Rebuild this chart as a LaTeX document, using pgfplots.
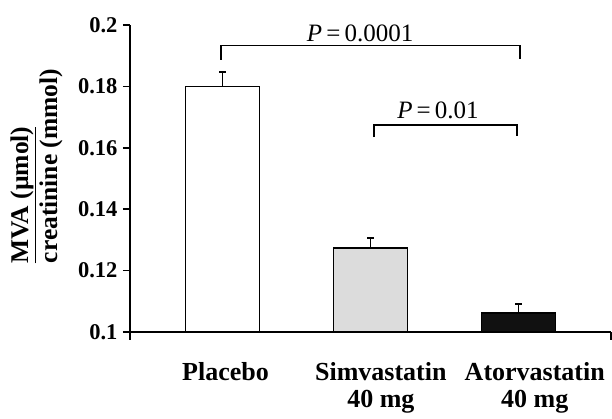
\documentclass[border=0pt]{standalone}
\usepackage{pgfplots}
\pgfplotsset{compat=1.18}
\usepackage{fontspec}
\setmainfont{Liberation Serif}
\definecolor{simgrey}{HTML}{DCDCDC}
\definecolor{atorblack}{HTML}{111111}
\newcommand{\fs}[1]{\fontsize{#1}{#1}\selectfont}

\begin{document}
\begin{tikzpicture}
\useasboundingbox (-130pt,-87pt) rectangle (482pt,332pt);
\begin{axis}[
    at={(0,0)}, anchor=south west,
    scale only axis,
    width=481pt, height=307pt,
    xmin=-0.625, xmax=2.625,
    ymin=0.1, ymax=0.2,
    axis x line=bottom, axis y line=left,
    axis line style={line width=1.8pt, -},
    clip mode=individual,
    tick align=outside,
    ytick={0.1,0.12,0.14,0.16,0.18,0.2},
    yticklabels={0.1,0.12,0.14,0.16,0.18,0.2},
    yticklabel style={font=\fs{22.5}\bfseries, xshift=-2pt},
    major tick length=7pt,
    every tick/.style={black, line width=1.5pt},
    xtick={0.02,1.07,2.11},
    xticklabels={Placebo,{Simvastatin\\40 mg},{Atorvastatin\\40 mg}},
    xticklabel style={font=\fontsize{26}{27}\selectfont\bfseries, align=center, yshift=-20pt},
    x tick style={draw=none},
    extra x ticks={-0.625,2.625},
    extra x tick labels={},
    extra x tick style={x tick style={draw=black, line width=1.5pt}, major tick length=8pt},
    ybar, bar width=74pt,
    error bars/y dir=plus, error bars/y explicit,
    error bars/error mark options={rotate=90, mark size=3.5pt, line width=1.2pt, black},
    error bars/error bar style={line width=1.2pt, black},
]
\addplot[bar shift=0pt, draw=black, line width=1.3pt, fill=white] coordinates {(0,0.180) +- (0,0.0047)};
\addplot[bar shift=0pt, draw=black, line width=1.3pt, fill=simgrey] coordinates {(1,0.1274) +- (0,0.0032)};
\addplot[bar shift=0pt, draw=black, line width=1.3pt, fill=atorblack] coordinates {(2,0.1062) +- (0,0.0029)};

\draw[line width=1.2pt] (axis cs:-0.01,0.1886) -- (axis cs:-0.01,0.1932) -- (axis cs:2.01,0.1932) -- (axis cs:2.01,0.1889);
\node[anchor=base, font=\fs{25}] at (axis cs:0.93,0.1945) {\textit{P}\,=\,0.0001};
\draw[line width=1.2pt] (axis cs:1.024,0.1635) -- (axis cs:1.024,0.1674) -- (axis cs:1.99,0.1674) -- (axis cs:1.99,0.1638);
\node[anchor=base, font=\fs{25}] at (axis cs:1.456,0.1697) {\textit{P}\,=\,0.01};
\end{axis}
\node[rotate=90, font=\fs{25.5}\bfseries] at (-107pt,137pt) {\underline{MVA (µmol)}};
\node[rotate=90, font=\fs{25.5}\bfseries] at (-79pt,166pt) {creatinine (mmol)};
\end{tikzpicture}
\end{document}
